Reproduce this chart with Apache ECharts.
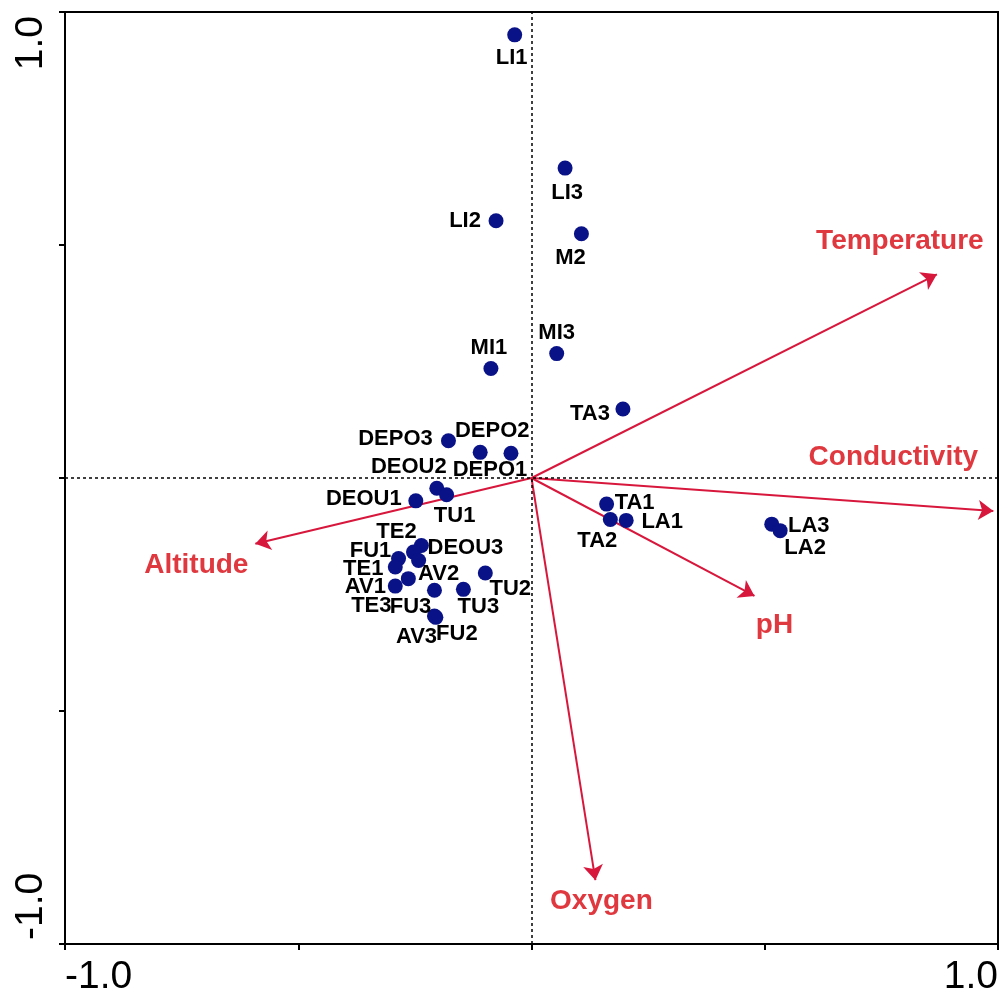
<!DOCTYPE html>
<html>
<head>
<meta charset="utf-8">
<script src="https://cdn.jsdelivr.net/npm/echarts@6/dist/echarts.min.js"></script>
<style>
html,body{margin:0;padding:0;background:#fff;}
#main{width:1003px;height:997px;}
</style>
</head>
<body>
<div id="main"></div>
<script type="text/javascript">
	// 样点
	var siteNames = ['LI1','LI3','LI2','M2','MI1','MI3','TA3','DEPO3','DEPO2','DEPO1','DEOU2','TU1','DEOU1','DEOU3','TE2','AV2','FU1','TE1','AV1','TE3','FU3','TU3','TU2','AV3','FU2','TA1','TA2','LA1','LA3','LA2'];
	var siteX = [-0.036,0.072,-0.076,0.107,-0.087,0.054,0.196,-0.178,-0.110,-0.044,-0.203,-0.182,-0.248,-0.236,-0.253,-0.242,-0.285,-0.292,-0.292,-0.264,-0.208,-0.146,-0.099,-0.208,-0.205,0.161,0.169,0.203,0.515,0.533];
	var siteY = [0.951,0.665,0.552,0.524,0.235,0.267,0.148,0.080,0.055,0.053,-0.022,-0.036,-0.049,-0.145,-0.159,-0.177,-0.173,-0.191,-0.232,-0.216,-0.241,-0.239,-0.204,-0.296,-0.299,-0.056,-0.089,-0.091,-0.099,-0.113];

	// 环境因子
	var envNames = ['Temperature','Conductivity','pH','Oxygen','Altitude'];
	var envX = [0.869,0.990,0.478,0.137,-0.592];
	var envY = [0.437,-0.071,-0.253,-0.863,-0.141];

	// 刻度
	var tickValues = [-1,-0.5,0,0.5,1];
	var tickLabels = ['-1.0','','','','1.0'];

	// 标签偏移(像素)
	var siteLabelOffset = {
		LI1:[-3,23], LI3:[2,25], LI2:[-31,0], M2:[-11,24], MI1:[-2,-21], MI3:[0,-21], TA3:[-33,5],
		DEPO3:[-53,-2], DEPO2:[12,-21], DEPO1:[-21,17], DEOU2:[-28,-21], TU1:[8,21], DEOU1:[-52,-2],
		DEOU3:[44,2], TE2:[-17,-20], AV2:[20,13], FU1:[-28,-8], TE1:[-32,2], AV1:[-30,1], TE3:[-37,27],
		FU3:[-24,17], TU3:[15,18], TU2:[25,16], AV3:[-18,21], FU2:[21,17],
		TA1:[28,-1], TA2:[-13,21], LA1:[36,2], LA3:[37,2], LA2:[25,17]
	};
	var envLabelOffset = {
		Temperature:[-37,-33], Conductivity:[-100,-54], pH:[20,29], Oxygen:[6,21], Altitude:[-59,22]
	};

	function tickText(v){
		var i = Math.round((v+1)*2);
		return tickLabels[i] || '';
	}

	var siteData = [];
	siteNames.forEach(function(el,index){
		siteData.push({
			name:el,
			value:[siteX[index],siteY[index]],
			label:{offset:siteLabelOffset[el] || [0,20]}
		});
	});

	var arrowData = [];
	var envData = [];
	envNames.forEach(function(el,index){
		arrowData.push({coords:[[0,0],[envX[index],envY[index]]]});
		envData.push({
			name:el,
			value:[envX[index],envY[index]],
			label:{offset:envLabelOffset[el] || [0,0]}
		});
	});

	var myChart = echarts.init(document.getElementById('main'));

	var axisCommon = {
		type:'value',
		min:-1,
		max:1,
		interval:0.5,
		splitLine:{show:false},
		axisLine:{show:false,onZero:false},
		axisTick:{show:true,length:6,lineStyle:{color:'#000',width:2}},
		axisLabel:{
			show:true,
			margin:14,
			color:'#000',
			fontFamily:'Liberation Sans, Arial, sans-serif',
			fontSize:39,
			formatter:tickText
		}
	};

	var option = {
		animation:false,
		backgroundColor:'#fff',
		grid:{
			left:65, right:5, top:12, bottom:51,
			show:true,
			borderColor:'#000',
			borderWidth:2,
			backgroundColor:'transparent'
		},
		xAxis:echarts.util.merge({
			axisLabel:{alignMinLabel:'left',alignMaxLabel:'right'}
		}, axisCommon),
		yAxis:echarts.util.merge({
			axisLabel:{rotate:90,alignMinLabel:'left',alignMaxLabel:'right',padding:[0,4,0,4]}
		}, axisCommon),
		series:[
			{
				// 环境因子箭头
				type:'lines',
				coordinateSystem:'cartesian2d',
				silent:true,
				z:3,
				symbol:['none','arrow'],
				symbolSize:[0,15],
				lineStyle:{color:'#d8173c',width:2,opacity:1,curveness:0},
				data:arrowData,
				markLine:{
					silent:true,
					symbol:['none','none'],
					label:{show:false},
					lineStyle:{color:'#000',width:1.5,type:[3,3],opacity:1},
					data:[{xAxis:0},{yAxis:0}]
				}
			},
			{
				// 环境因子名称
				type:'scatter',
				silent:true,
				z:4,
				symbolSize:1,
				itemStyle:{color:'rgba(0,0,0,0)',opacity:1},
				label:{
					show:true,
					position:'inside',
					formatter:'{b}',
					color:'#e0383f',
					opacity:1,
					textBorderWidth:0,
					fontFamily:'Liberation Sans, Arial, sans-serif',
					fontWeight:'bold',
					fontSize:28
				},
				data:envData
			},
			{
				// 样点
				type:'scatter',
				z:5,
				symbol:'circle',
				symbolSize:15,
				itemStyle:{color:'#0a1288',opacity:1},
				label:{
					show:true,
					position:'inside',
					formatter:'{b}',
					color:'#000',
					opacity:1,
					textBorderWidth:0,
					fontFamily:'Liberation Sans, Arial, sans-serif',
					fontWeight:'bold',
					fontSize:22
				},
				data:siteData
			}
		]
	};

	myChart.setOption(option);
</script>
</body>
</html>
